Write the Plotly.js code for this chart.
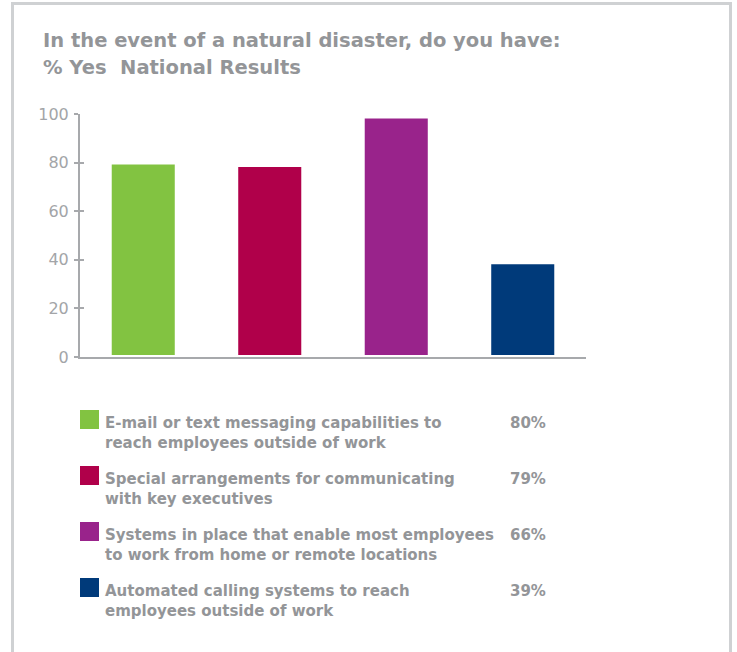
<!DOCTYPE html>
<html>
<head>
<meta charset="utf-8">
<script src="https://cdn.plot.ly/plotly-3.0.1.min.js"></script>
<style>
  html, body { margin: 0; padding: 0; background: #ffffff; }
  #frame { position: absolute; left: 11px; top: 2px; width: 715px; height: 660px;
           border-left: 3px solid #cfd1d3; border-top: 3px solid #cfd1d3; border-right: 3px solid #cfd1d3; }
  #chart { position: absolute; left: 0; top: 0; width: 737px; height: 652px; }
</style>
</head>
<body>
<div id="frame"></div>
<div id="chart"></div>
<script>
// ---- data ----
const categories = [
  "E-mail or text messaging capabilities to<br>reach employees outside of work",
  "Special arrangements for communicating<br>with key executives",
  "Systems in place that enable most employees<br>to work from home or remote locations",
  "Automated calling systems to reach<br>employees outside of work"
];
const values = [80, 79, 99, 39];
const percentLabels = ["80%", "79%", "66%", "39%"];
const colors = ["#82c341", "#b0004a", "#99238b", "#003a7a"];
const yTicks = [0, 20, 40, 60, 80, 100];

const titleLine1 = "In the event of a natural disaster, do you have:";
const titleLine2 = "% Yes  National Results";

// ---- geometry helpers (pixels -> paper) ----
const W = 737, H = 652;
const mL = 80, mR = 151, mT = 114, mB = 295;
const pw = W - mL - mR, ph = H - mT - mB;
const px = x => (x - mL) / pw;
const py = y => (H - mB - y) / ph;

const gray = "#939598";
const idx = categories.map((_, i) => i);

const traces = [{
  type: "bar",
  x: idx,
  y: values,
  width: 0.53,
  marker: { color: colors, line: { color: "#ffffff", width: 4 } },
  hoverinfo: "skip",
  showlegend: false
}, {
  // invisible trace on overlay axis for inward ticks
  type: "scatter", mode: "markers", x: [0], y: [0], yaxis: "y2",
  marker: { opacity: 0 }, showlegend: false, hoverinfo: "skip"
}];

const shapes = [];
const annotations = [];
const legendTop = 410, legendStep = 56;
idx.forEach(i => {
  const top = legendTop + i * legendStep;
  shapes.push({
    type: "rect", xref: "paper", yref: "paper",
    x0: px(80), x1: px(99), y0: py(top), y1: py(top + 19),
    fillcolor: colors[i], line: { width: 0 }
  });
  annotations.push({
    xref: "paper", yref: "paper", x: px(103), y: py(top + 2),
    xanchor: "left", yanchor: "top", align: "left", showarrow: false,
    text: "<b>" + categories[i] + "</b>",
    font: { family: "DejaVu Sans", size: 15, color: gray }
  });
  annotations.push({
    xref: "paper", yref: "paper", x: px(548), y: py(top + 2),
    xanchor: "right", yanchor: "top", align: "right", showarrow: false,
    text: "<b>" + percentLabels[i] + "</b>",
    font: { family: "DejaVu Sans", size: 15, color: gray }
  });
});

// second title line
annotations.push({
  xref: "paper", yref: "paper", x: px(41), y: py(54),
  xanchor: "left", yanchor: "top", align: "left", showarrow: false,
  text: "<b>" + titleLine2 + "</b>",
  font: { family: "DejaVu Sans", size: 19.5, color: gray }
});

const layout = {
  width: W, height: H,
  margin: { l: mL, r: mR, t: mT, b: mB, pad: 0 },
  paper_bgcolor: "rgba(0,0,0,0)",
  plot_bgcolor: "rgba(0,0,0,0)",
  title: {
    text: "<b>" + titleLine1 + "</b>",
    x: 43 / W, xanchor: "left", xref: "container",
    y: 1 - 33 / H, yanchor: "top", yref: "container",
    font: { family: "DejaVu Sans", size: 19.5, color: gray }
  },
  xaxis: {
    range: [-0.5, 3.5], showticklabels: false, ticks: "",
    showgrid: false, zeroline: false,
    showline: true, linecolor: "#a7a9ac", linewidth: 2,
    layer: "below traces", fixedrange: true
  },
  yaxis: {
    range: [0, 100], tickvals: yTicks, ticktext: yTicks.map(String),
    ticks: "outside", ticklen: 4, tickwidth: 2, tickcolor: "#a7a9ac",
    showgrid: false, zeroline: false,
    showline: true, linecolor: "#a7a9ac", linewidth: 2,
    tickfont: { family: "DejaVu Sans", size: 16, color: "#a3a5a8" },
    ticklabelstandoff: 2,
    layer: "below traces", fixedrange: true
  },
  yaxis2: {
    overlaying: "y", side: "left", range: [0, 100], tickvals: yTicks,
    showticklabels: false, ticks: "inside", ticklen: 4, tickwidth: 2, tickcolor: "#a7a9ac",
    showgrid: false, zeroline: false, showline: false, fixedrange: true
  },
  bargap: 0.5,
  shapes: shapes,
  annotations: annotations,
  showlegend: false
};

Plotly.newPlot("chart", traces, layout, { displayModeBar: false, staticPlot: true });
</script>
</body>
</html>
